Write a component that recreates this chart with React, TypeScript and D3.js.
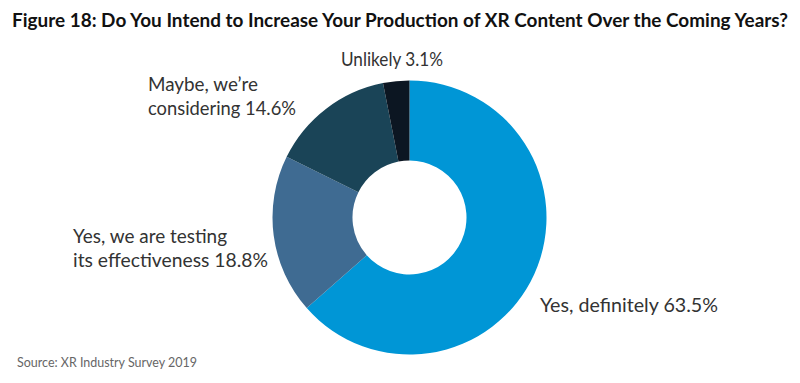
import React from "react";
import * as d3 from "d3";

const categories = ["Yes, definitely", "Yes, we are testing its effectiveness", "Maybe, we're considering", "Unlikely"];
const values = [63.5, 18.8, 14.6, 3.1];
const colors = ["#0096D6", "#3F6B92", "#1A4457", "#0C1622"];
const labelLines = [
  ["Yes, definitely 63.5%"],
  ["Yes, we are testing", "its effectiveness 18.8%"],
  ["Maybe, we\u2019re", "considering 14.6%"],
  ["Unlikely 3.1%"],
];
const labelWidths = [[178], [154, 195], [110, 148], [102]];
const labelPos = [
  { x: 540, y: 312 },
  { x: 73, y: 243 },
  { x: 148, y: 91 },
  { x: 341, y: 66 },
];

export default function App() {
  const W = 800, H = 383;
  const cx = 409.5, cy = 217.5, R = 137, r = 57;
  const pie = d3.pie<number>().sort(null).value((d) => d);
  const arcs = pie(values);
  const arc = d3.arc<d3.PieArcDatum<number>>().innerRadius(r).outerRadius(R);
  const font = "Lato, 'Open Sans', sans-serif";
  return (
    <svg width={W} height={H} style={{ position: "absolute", left: 0, top: 0, background: "#fff" }}>
      <rect width={W} height={H} fill="#fff" />
      <text x={12} y={27} fontFamily={font} fontWeight={700} fontSize={18} fill="#111" textLength={776} lengthAdjust="spacingAndGlyphs">
        Figure 18: Do You Intend to Increase Your Production of XR Content Over the Coming Years?
      </text>
      <g transform={`translate(${cx},${cy})`}>
        {arcs.map((a, i) => (
          <path key={categories[i]} d={arc(a) || ""} fill={colors[i]} />
        ))}
      </g>
      {labelLines.map((lines, i) =>
        lines.map((l, j) => (
          <text key={`${i}-${j}`} x={labelPos[i].x} y={labelPos[i].y + j * 24} fontFamily={font} fontSize={18.5} fill="#333"
            textLength={labelWidths[i][j]} lengthAdjust="spacingAndGlyphs">
            {l}
          </text>
        ))
      )}
      <text x={17} y={367} fontFamily={font} fontSize={13} fill="#666" textLength={180} lengthAdjust="spacingAndGlyphs">Source: XR Industry Survey 2019</text>
    </svg>
  );
}
